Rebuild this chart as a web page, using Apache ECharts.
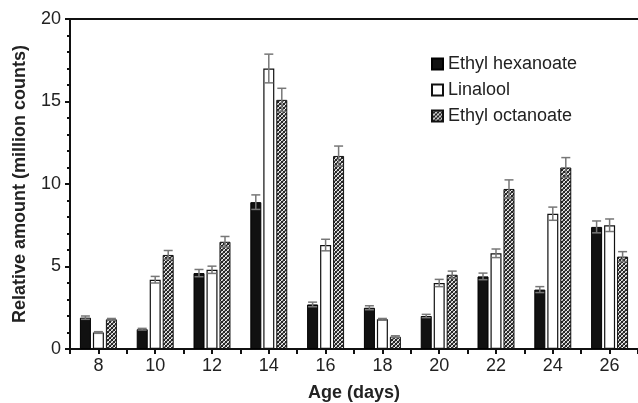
<!DOCTYPE html>
<html>
<head>
<meta charset="utf-8">
<script src="https://cdn.jsdelivr.net/npm/echarts@6/dist/echarts.min.js"></script>
<style>
  html, body { margin: 0; padding: 0; background: #fff; }
  #chart { width: 638px; height: 403px; }
</style>
</head>
<body>
<div id="chart"></div>
<script>
const days = ['8', '10', '12', '14', '16', '18', '20', '22', '24', '26'];
const hexanoate = [1.9, 1.2, 4.6, 8.9, 2.7, 2.5, 2.0, 4.4, 3.6, 7.4];
const hexanoateErr = [0.1, 0.05, 0.22, 0.44, 0.14, 0.12, 0.1, 0.2, 0.18, 0.36];
const linalool = [1.0, 4.2, 4.8, 17.0, 6.3, 1.8, 4.0, 5.8, 8.2, 7.5];
const linaloolErr = [0.05, 0.2, 0.22, 0.87, 0.35, 0.05, 0.22, 0.26, 0.4, 0.38];
const octanoate = [1.8, 5.7, 6.5, 15.1, 11.7, 0.75, 4.5, 9.7, 11.0, 5.6];
const octanoateErr = [0.05, 0.27, 0.32, 0.7, 0.6, 0.05, 0.22, 0.55, 0.6, 0.3];
const yTicks = [0, 5, 10, 15, 20];

// crosshatch texture for ethyl octanoate
const pat = document.createElement('canvas');
pat.width = 4; pat.height = 4;
const pc = pat.getContext('2d');
for (let y = 0; y < 4; y++) {
  for (let x = 0; x < 4; x++) {
    if (x === y || x === 3 - y) pc.fillStyle = '#262626';
    else if ((x + y) % 2 === 1) pc.fillStyle = '#f2f2f2';
    else pc.fillStyle = '#9c9c9c';
    pc.fillRect(x, y, 1, 1);
  }
}

const font = 'Liberation Sans, Arial, sans-serif';
const barW = 11, step = 13;

function errSeries(vals, errs, idx) {
  return {
    type: 'custom',
    z: 5,
    silent: true,
    data: vals.map((v, i) => [i, v, errs[i]]),
    renderItem: function (params, api) {
      const x = api.coord([api.value(0), 0])[0] + (idx - 1) * step;
      const hi = api.coord([api.value(0), api.value(1) + api.value(2)])[1];
      const lo = api.coord([api.value(0), api.value(1) - api.value(2)])[1];
      const s = { stroke: '#777', lineWidth: 1.5 };
      return {
        type: 'group',
        children: [
          { type: 'line', shape: { x1: x, y1: hi, x2: x, y2: lo }, style: s },
          { type: 'line', shape: { x1: x - 4.5, y1: hi, x2: x + 4.5, y2: hi }, style: s },
          { type: 'line', shape: { x1: x - 4.5, y1: lo, x2: x + 4.5, y2: lo }, style: s }
        ]
      };
    }
  };
}

const chart = echarts.init(document.getElementById('chart'));
chart.setOption({
  animation: false,
  textStyle: { fontFamily: font },
  grid: { left: 70, right: 0, top: 19, bottom: 54, outerBoundsMode: 'none' },
  legend: {
    orient: 'vertical',
    left: 426,
    top: 50,
    itemWidth: 11,
    itemHeight: 11,
    itemGap: 8,
    icon: 'rect',
    textStyle: { fontSize: 18, color: '#222' },
    data: ['Ethyl hexanoate', 'Linalool', 'Ethyl octanoate']
  },
  xAxis: [
    {
      type: 'category',
      data: days,
      name: 'Age (days)',
      nameLocation: 'middle',
      nameGap: 35,
      nameTextStyle: { fontSize: 18, fontWeight: 'bold', color: '#222' },
      axisLine: { lineStyle: { color: '#111', width: 2 } },
      axisTick: { show: true, length: 5, interval: 0, lineStyle: { color: '#111', width: 2 } },
      axisLabel: { fontSize: 18, color: '#222', margin: 8 }
    },
    {
      type: 'category',
      data: days,
      position: 'bottom',
      axisLine: { show: false },
      axisTick: { show: true, alignWithLabel: true, length: 5, interval: 0, lineStyle: { color: '#111', width: 2 } },
      axisLabel: { show: false }
    },
    {
      type: 'category',
      data: days,
      position: 'top',
      axisLine: { lineStyle: { color: '#111', width: 2 } },
      axisTick: { show: false },
      axisLabel: { show: false }
    }
  ],
  yAxis: {
    type: 'value',
    min: yTicks[0],
    max: yTicks[yTicks.length - 1],
    interval: 5,
    name: 'Relative amount (million counts)',
    nameLocation: 'middle',
    nameGap: 41,
    nameTextStyle: { fontSize: 18, fontWeight: 'bold', color: '#222' },
    axisLine: { show: true, lineStyle: { color: '#111', width: 2 } },
    axisTick: { show: true, length: 5, lineStyle: { color: '#111', width: 2 } },
    minorTick: { show: true, splitNumber: 5, length: 3, lineStyle: { color: '#111', width: 2 } },
    splitLine: { show: false },
    axisLabel: { fontSize: 18, color: '#222', margin: 9 }
  },
  series: [
    {
      name: 'Ethyl hexanoate', type: 'bar', barWidth: barW, barGap: '18%',
      data: hexanoate,
      itemStyle: { color: '#111', borderColor: '#000', borderWidth: 1 }
    },
    {
      name: 'Linalool', type: 'bar', barWidth: barW, barGap: '18%',
      data: linalool,
      itemStyle: { color: '#fff', borderColor: '#111', borderWidth: 1.2 }
    },
    {
      name: 'Ethyl octanoate', type: 'bar', barWidth: barW, barGap: '18%',
      data: octanoate,
      itemStyle: { color: { image: pat, repeat: 'repeat' }, borderColor: '#111', borderWidth: 1 }
    },
    errSeries(hexanoate, hexanoateErr, 0),
    errSeries(linalool, linaloolErr, 1),
    errSeries(octanoate, octanoateErr, 2)
  ]
});
</script>
</body>
</html>
